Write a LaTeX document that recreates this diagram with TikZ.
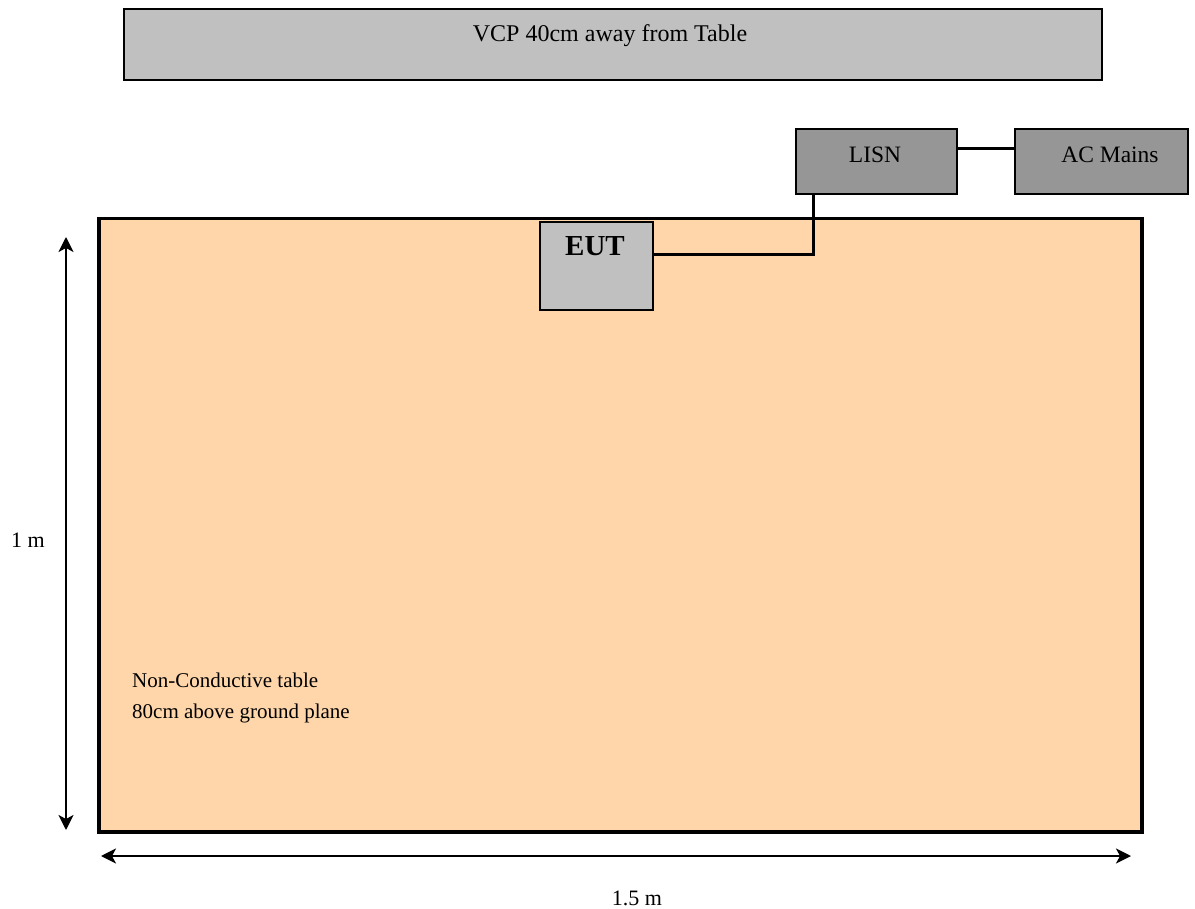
\documentclass[tikz,border=0pt]{standalone}
\usepackage{fontspec}
\setmainfont{Liberation Serif}
\usetikzlibrary{arrows.meta}
\definecolor{peach}{RGB}{255,214,170}
\definecolor{lgray}{RGB}{192,192,192}
\definecolor{dgray}{RGB}{150,150,150}
\begin{document}
\begin{tikzpicture}[x=1pt,y=-1pt,
  box/.style={draw=black,line width=2.2pt,inner sep=0pt,anchor=north west},
  lbl/.style={font=\fontsize{23.5}{27}\selectfont,inner sep=0pt},
  wire/.style={line width=3pt},
  dim/.style={line width=2pt,{Stealth[length=15pt,width=15pt,inset=4pt]}-{Stealth[length=15pt,width=15pt,inset=4pt]}}]
\useasboundingbox (0,0) rectangle (1195,909);
% table
\node[box,line width=3.5pt,fill=peach,minimum width=1043pt,minimum height=613pt] (table) at (97,217) {};
% VCP
\node[box,fill=lgray,minimum width=978pt,minimum height=71pt] (vcp) at (123,8) {};
\node[lbl,font=\fontsize{24}{28}\selectfont] (vcpt) at (610,36) {VCP 40cm away from Table};
% LISN and AC mains
\node[box,fill=dgray,minimum width=161pt,minimum height=65pt] (lisn) at (795,128) {};
\node[lbl] (lisnt) at (875,155) {LISN};
\node[box,fill=dgray,minimum width=173pt,minimum height=65pt] (ac) at (1014,128) {};
\node[lbl] (act) at (1110,155) {AC Mains};
% EUT
\node[box,fill=lgray,minimum width=113pt,minimum height=88pt] (eut) at (539,221) {};
\node[lbl,font=\fontsize{29}{32}\selectfont\bfseries] (eutt) at (595,246) {EUT};
% wires
\coordinate (bend) at (813,255);
\draw[wire] (lisn.east |- 0,149) -- (ac.west |- 0,149);
\draw[wire] (eut.east |- bend) -- (bend) -- (bend |- lisn.south);
% dimension arrows
\coordinate (vt) at (66,237);
\coordinate (vb) at (66,830);
\draw[dim] (vb) -- (vt);
\node[lbl,font=\fontsize{22}{26}\selectfont] (onem) at (28,540) {1 m};
\coordinate (hl) at (101,856);
\coordinate (hr) at (1131,856);
\draw[dim] (hl) -- (hr);
\node[lbl,font=\fontsize{22}{26}\selectfont] (onefive) at (637,898) {1.5 m};
% table label
\node[anchor=base west,inner sep=0pt,align=left,font=\fontsize{21}{31}\selectfont] (tablet) at (132,718) {Non-Conductive table\\80cm above ground plane};
\end{tikzpicture}
\end{document}
